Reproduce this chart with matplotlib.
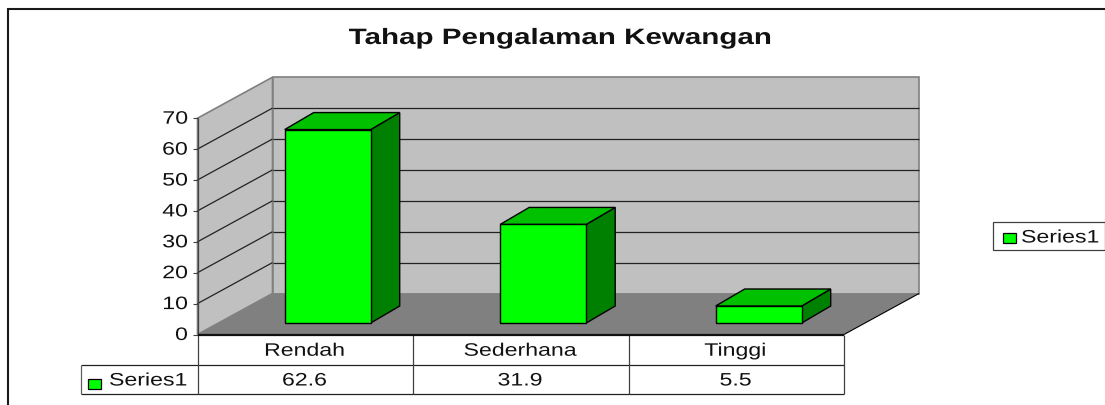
import matplotlib
matplotlib.use('Agg')
import matplotlib.pyplot as plt
from matplotlib.patches import Polygon, Rectangle
from matplotlib.patheffects import AbstractPathEffect
from matplotlib.transforms import Affine2D

categories = ['Rendah', 'Sederhana', 'Tinggi']
values = [62.6, 31.9, 5.5]
series_name = 'Series1'
y_ticks = [0, 10, 20, 30, 40, 50, 60, 70]
title = 'Tahap Pengalaman Kewangan'

plt.rcParams['font.family'] = ['Liberation Sans', 'DejaVu Sans']

fig = plt.figure(figsize=(11.05, 4.05), dpi=100)
ax = fig.add_axes([0, 0, 1, 1])
ax.set_xlim(0, 1105)
ax.set_ylim(405, 0)
ax.axis('off')

# chart geometry in pixels
x0, x1 = 197.5, 844
y0 = 334.5
unit = 3.09
dx, dy = 75, -41
top = y0 - 70 * unit
cat_w = (x1 - x0) / len(categories)


class Widen(AbstractPathEffect):
    # the reference text is stretched sideways, keep it as text but widen the drawn path
    def __init__(self, cx, sx):
        self.cx = cx
        self.sx = sx

    def draw_path(self, renderer, gc, tpath, affine, rgbFace=None):
        t = affine + Affine2D().translate(-self.cx, 0).scale(self.sx, 1).translate(self.cx, 0)
        renderer.draw_path(gc, tpath, t, rgbFace)


def label(x, y, s, ha='center', size=13, sx=1.28, **kw):
    ax.text(x, y + 1, s, ha=ha, va='center', fontsize=size, color='#111111',
            path_effects=[Widen(x, sx)], **kw)


def poly(pts, fc, ec='black', lw=1.0, z=2):
    ax.add_patch(Polygon(pts, closed=True, fc=fc, ec=ec, lw=lw, zorder=z, joinstyle='miter'))


def line(xs, ys, c='black', lw=1.0, z=3):
    ax.plot(xs, ys, color=c, lw=lw, zorder=z, solid_capstyle='butt')


# frame of the chart area
line([8, 8], [405, 8.5], lw=1.5, c='#1a1a1a')
line([7.3, 1105], [9, 9], lw=1.5, c='#1a1a1a')

# walls and floor
poly([(x0, y0), (x0, top), (x0 + dx, top + dy), (x0 + dx, y0 + dy)], '#c0c0c0', ec='#808080', lw=1.2)
poly([(x0 + dx, y0 + dy), (x0 + dx, top + dy), (x1 + dx, top + dy), (x1 + dx, y0 + dy)], '#c0c0c0', ec='#808080', lw=1.2)
poly([(x0, y0), (x0 + dx, y0 + dy), (x1 + dx, y0 + dy), (x1, y0)], '#808080', ec='none', lw=0)
line([x1, x1 + dx], [y0, y0 + dy], lw=0.8)

# gridlines and tick labels
for t in y_ticks:
    y = y0 - t * unit
    if 0 < t < 70:
        line([x0, x0 + dx], [y, y + dy], lw=0.9, c='#222222')
        line([x0 + dx, x1 + dx], [y + dy, y + dy], lw=0.9, c='#222222')
    line([x0 - 5, x0], [y, y], lw=0.8, c='#404040')
    label(x0 - 9.5, y, str(t), ha='right')
line([x0, x0], [top, y0], c='#404040', lw=0.9)

# bars
bar_w = 86
bar_off = 87.2
bar_base = 323
bd_x, bd_y = 29, -17
for i, v in enumerate(values):
    left = x0 + i * cat_w + bar_off
    right = left + bar_w
    ytop = bar_base - v * unit
    poly([(right, bar_base), (right + bd_x, bar_base + bd_y), (right + bd_x, ytop + bd_y), (right, ytop)], '#008000', z=4)
    poly([(left, ytop), (left + bd_x, ytop + bd_y), (right + bd_x, ytop + bd_y), (right, ytop)], '#00c000', z=4)
    poly([(left, bar_base), (left, ytop), (right, ytop), (right, bar_base)], '#00ff00', z=5)

# data table
row1, row2, row3 = 334.5, 365, 394
tab_left = 80.5
line([x0, x1], [row1, row1], lw=1.6, z=6, c='#111111')
line([tab_left, x1], [row2, row2], lw=0.9, c='#222222')
line([tab_left, x1], [row3, row3], lw=0.9, c='#222222')
line([tab_left, tab_left], [row2, row3], lw=0.9, c='#606060')
for i in range(len(categories) + 1):
    line([x0 + i * cat_w] * 2, [row1, row3], lw=0.9, c='#404040')
for i, (c, v) in enumerate(zip(categories, values)):
    xc = x0 + (i + 0.5) * cat_w - 0.8
    label(xc, (row1 + row2) / 2 + 0.5, c)
    label(xc, (row2 + row3) / 2 + 0.5, str(v))
ax.add_patch(Rectangle((87.5, 378.5), 13, 10, fc='#00ff00', ec='black', lw=0.9, zorder=5))
label(109, (row2 + row3) / 2 + 0.5, series_name, ha='left')

# legend
ax.add_patch(Rectangle((993, 222), 112, 28, fc='white', ec='#404040', lw=0.9, zorder=3))
ax.add_patch(Rectangle((1002.5, 232.8), 13, 10, fc='#00ff00', ec='black', lw=0.9, zorder=5))
label(1021, 237, series_name, ha='left')

label(560, 37.5, title, size=16, sx=1.33, fontweight='bold')

fig.savefig('out.png', dpi=100)
